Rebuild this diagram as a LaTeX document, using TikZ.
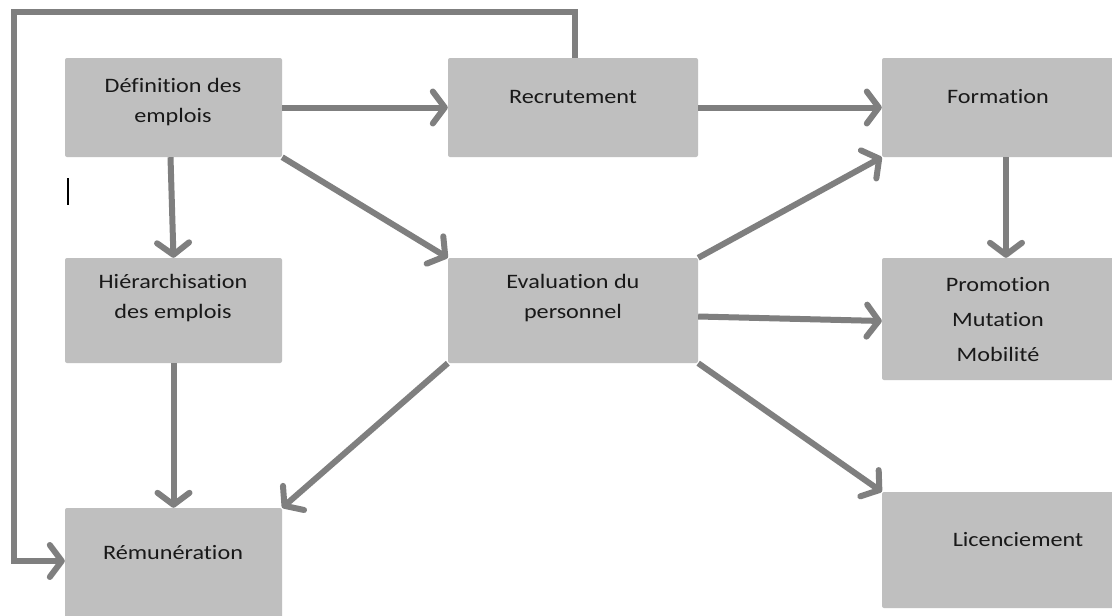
\documentclass[tikz,border=0pt]{standalone}
\usepackage{fontspec}
\setmainfont{Carlito}[FakeStretch=1.18, Ligatures=NoCommon]
\usetikzlibrary{arrows.meta}
\definecolor{boxgray}{HTML}{BFBFBF}
\definecolor{linegray}{HTML}{7F7F7F}
\tikzset{
  x=1pt, y=-1pt,
  box/.style={fill=boxgray, rounded corners=2pt, inner sep=0pt},
  lbl/.style={align=center, inner sep=0pt, font=\fontsize{20.5}{30}\selectfont, text=black!90},
  arr/.style={draw=linegray, line width=6pt,
    -{Straight Barb[length=12pt, width=32pt, line cap=round, line join=round]}}
}
\begin{document}
\begin{tikzpicture}
\useasboundingbox (0,0) rectangle (1112,616);
\fill[white] (0,0) rectangle (1112,616);
\clip (0,0) rectangle (1112,616);

% boxes
\node[box, minimum width=217pt, minimum height=99pt] (def)  at (173.5,107.5) {};
\node[box, minimum width=250pt, minimum height=99pt] (rec)  at (573,107.5) {};
\node[box, minimum width=240pt, minimum height=99pt] (form) at (1002,107.5) {};
\node[box, minimum width=217pt, minimum height=105pt] (hier) at (173.5,310.5) {};
\node[box, minimum width=250pt, minimum height=105pt] (eval) at (573,310.5) {};
\node[box, minimum width=240pt, minimum height=122pt] (prom) at (1002,319) {};
\node[box, minimum width=217pt, minimum height=110pt] (rem)  at (173.5,563) {};
\node[box, minimum width=240pt, minimum height=116pt] (lic)  at (1002,550) {};

% labels
\node[lbl] (tdef)  at (173,102) {Définition des\\emplois};
\node[lbl] (trec)  at (573,97)  {Recrutement};
\node[lbl] (tform) at (998,97)  {Formation};
\node[lbl] (thier) at (173,298) {Hiérarchisation\\des emplois};
\node[lbl] (teval) at (573,298) {Evaluation du\\personnel};
\node[lbl, font=\fontsize{20.5}{35}\selectfont] (tprom) at (998,320) {Promotion\\Mutation\\Mobilité};
\node[lbl] (trem)  at (173,553) {Rémunération};
\node[lbl] (tlic)  at (1018,540) {Licenciement};

% connectors
\draw[arr] (def.east) -- (rec.west);
\draw[arr] (rec.east) -- (form.west);
\draw[arr] ([xshift=-3pt]def.south) -- (hier.north);
\draw[arr] (def.south east) -- (eval.north west);
\draw[arr] (eval.north east) -- (form.south west);
\draw[arr] ([xshift=4pt]form.south) -- ([xshift=4pt]prom.north);
\draw[arr] ([yshift=-6pt]eval.east) -- ([yshift=-2pt]prom.west);
\draw[arr] (eval.south east) -- (lic.north west);
\draw[arr] (eval.south west) -- (rem.north east);
\draw[arr] (hier.south) -- (rem.north);

% feedback loop from recruitment back to pay
\coordinate (loop) at (14,12);
\draw[arr] ([xshift=2pt]rec.north) |- (loop) |- ([yshift=2pt]rem.west);

% text cursor mark
\draw[black, line width=2pt] (68,178) -- (68,205);
\end{tikzpicture}
\end{document}
